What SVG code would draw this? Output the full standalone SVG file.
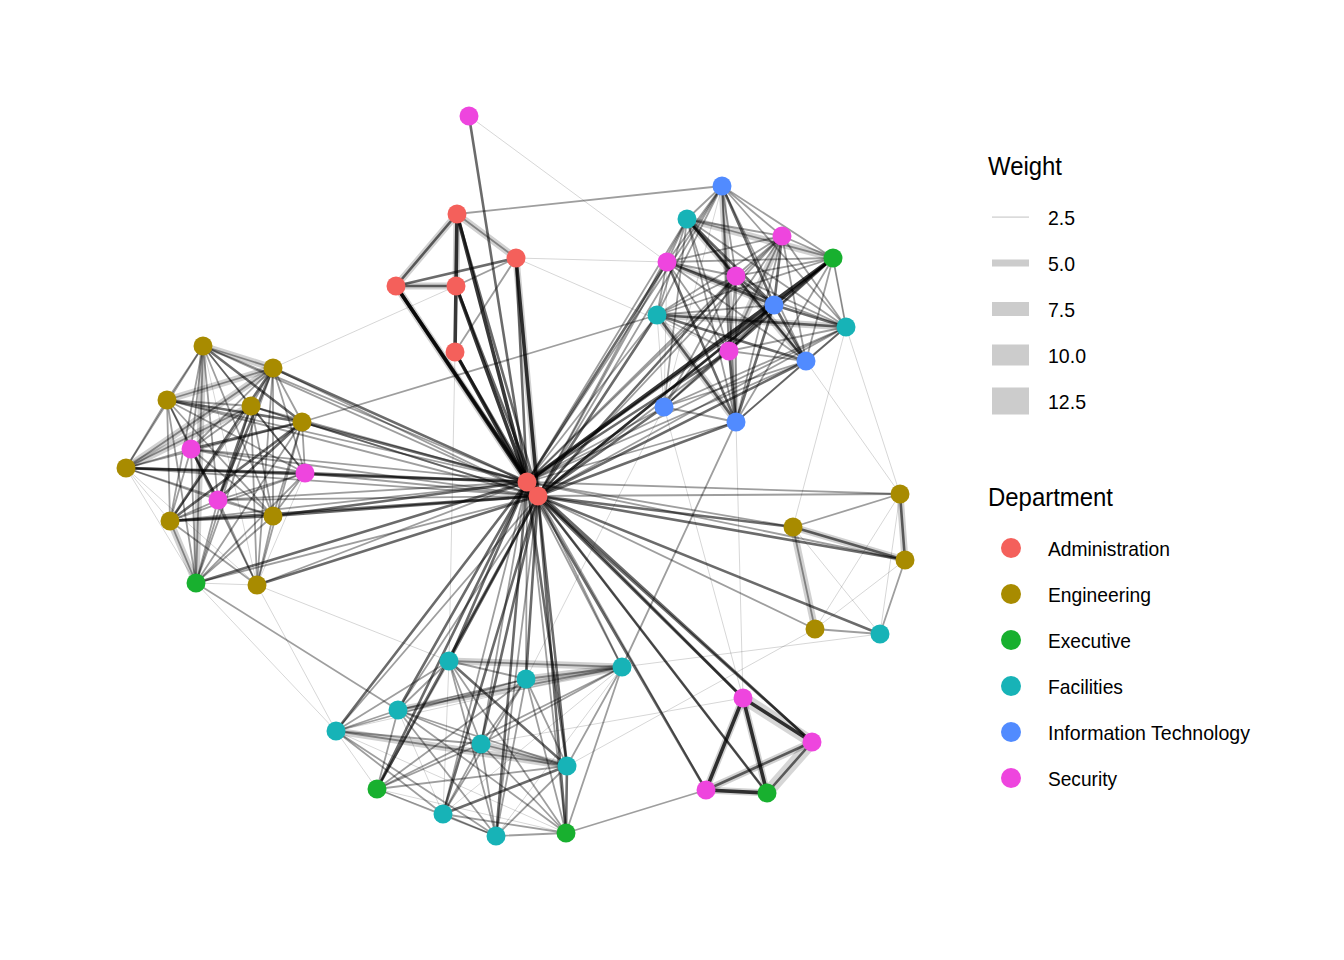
<svg xmlns="http://www.w3.org/2000/svg" width="1344" height="960" viewBox="0 0 1344 960">
<style>
path{fill:none;stroke:#000;stroke-linecap:round}
.e1{stroke-opacity:.16;stroke-width:1}
.e2{stroke-opacity:.38;stroke-width:1.8}
.e3{stroke-opacity:.58;stroke-width:2.6}
.e4{stroke-opacity:.78;stroke-width:3.6}
.g{stroke-opacity:.18;stroke-width:7}
.gw{stroke-opacity:.16;stroke-width:12}
.ad{fill:#F4605B}.en{fill:#A88B00}.ex{fill:#18B02F}.fa{fill:#17B3B7}.it{fill:#518BFF}.se{fill:#EE45DE}
text{font-family:"Liberation Sans",Arial,Helvetica,sans-serif;fill:#000}
.lt{font-size:25px}.ll{font-size:21px}
.key{fill:#CCCCCC}
</style>
<rect width="1344" height="960" fill="#fff"/>
<g id="connectors">
<g id="hub-edges">
<path class="e4" d="M457 214 527 482"/><path class="e3" d="M457 214 538 496"/>
<path class="e4" d="M396 286 527 482"/><path class="e4" d="M396 286 538 496"/>
<path class="e4" d="M456 286 527 482"/><path class="e3" d="M456 286 538 496"/>
<path class="e4" d="M455 352 527 482"/><path class="e3" d="M455 352 538 496"/>
<path class="e3" d="M516 258 527 482"/><path class="e4" d="M516 258 538 496"/>
<path class="e3" d="M469 116 527 482"/><path class="e3" d="M527 482 538 496"/>
<path class="e2" d="M203 346 527 482"/><path class="e2" d="M203 346 538 496"/>
<path class="e3" d="M273 368 527 482"/><path class="e2" d="M273 368 538 496"/>
<path class="e2" d="M167 400 527 482"/><path class="e2" d="M167 400 538 496"/>
<path class="e2" d="M251 406 527 482"/><path class="e2" d="M251 406 538 496"/>
<path class="e3" d="M302 422 527 482"/><path class="e2" d="M302 422 538 496"/>
<path class="e3" d="M126 468 527 482"/><path class="e2" d="M126 468 538 496"/>
<path class="e2" d="M170 521 527 482"/><path class="e3" d="M170 521 538 496"/>
<path class="e3" d="M273 516 527 482"/><path class="e3" d="M273 516 538 496"/>
<path class="e2" d="M257 585 527 482"/><path class="e3" d="M257 585 538 496"/>
<path class="e2" d="M191 449 527 482"/><path class="e2" d="M191 449 538 496"/>
<path class="e3" d="M305 473 527 482"/><path class="e2" d="M305 473 538 496"/>
<path class="e2" d="M218 500 527 482"/><path class="e2" d="M218 500 538 496"/>
<path class="e3" d="M196 583 527 482"/><path class="e2" d="M196 583 538 496"/>
<path class="e2" d="M722 186 527 482"/><path class="e2" d="M722 186 538 496"/>
<path class="e2" d="M687 219 527 482"/><path class="e2" d="M687 219 538 496"/>
<path class="e2" d="M782 236 527 482"/><path class="e2" d="M782 236 538 496"/>
<path class="e4" d="M833 258 527 482"/><path class="e3" d="M833 258 538 496"/>
<path class="e3" d="M667 262 527 482"/><path class="e2" d="M667 262 538 496"/>
<path class="e2" d="M736 276 527 482"/><path class="e3" d="M736 276 538 496"/>
<path class="e3" d="M774 305 527 482"/><path class="e3" d="M774 305 538 496"/>
<path class="e2" d="M657 315 527 482"/><path class="e3" d="M657 315 538 496"/>
<path class="e2" d="M846 327 527 482"/><path class="e2" d="M846 327 538 496"/>
<path class="e3" d="M729 351 527 482"/><path class="e2" d="M729 351 538 496"/>
<path class="e2" d="M806 361 527 482"/><path class="e3" d="M806 361 538 496"/>
<path class="e2" d="M664 407 527 482"/><path class="e3" d="M664 407 538 496"/>
<path class="e2" d="M736 422 527 482"/><path class="e3" d="M736 422 538 496"/>
<path class="e2" d="M900 494 527 482"/><path class="e2" d="M900 494 538 496"/>
<path class="e2" d="M793 527 527 482"/><path class="e3" d="M793 527 538 496"/>
<path class="e2" d="M905 560 527 482"/><path class="e3" d="M905 560 538 496"/>
<path class="e2" d="M815 629 538 496"/><path class="e3" d="M880 634 538 496"/>
<path class="e3" d="M743 698 527 482"/><path class="e3" d="M743 698 538 496"/>
<path class="e3" d="M812 742 527 482"/><path class="e3" d="M812 742 538 496"/>
<path class="e3" d="M706 790 527 482"/><path class="e2" d="M706 790 538 496"/>
<path class="e2" d="M767 793 527 482"/><path class="e3" d="M767 793 538 496"/>
<path class="e3" d="M449 661 527 482"/><path class="e3" d="M449 661 538 496"/>
<path class="e2" d="M526 679 527 482"/><path class="e3" d="M526 679 538 496"/>
<path class="e2" d="M622 667 527 482"/><path class="e2" d="M622 667 538 496"/>
<path class="e3" d="M398 710 527 482"/><path class="e2" d="M398 710 538 496"/>
<path class="e3" d="M336 731 527 482"/><path class="e2" d="M336 731 538 496"/>
<path class="e2" d="M481 744 527 482"/><path class="e3" d="M481 744 538 496"/>
<path class="e3" d="M567 766 527 482"/><path class="e3" d="M567 766 538 496"/>
<path class="e3" d="M377 789 527 482"/><path class="e3" d="M377 789 538 496"/>
<path class="e2" d="M443 814 527 482"/><path class="e3" d="M443 814 538 496"/>
<path class="e3" d="M496 836 527 482"/><path class="e2" d="M496 836 538 496"/>
<path class="e2" d="M566 833 527 482"/><path class="e3" d="M566 833 538 496"/>
</g>
<g id="admin-edges">
<path class="g" d="M457 214 396 286"/><path class="e3" d="M457 214 396 286"/>
<path class="g" d="M457 214 456 286"/><path class="e4" d="M457 214 456 286"/>
<path class="g" d="M457 214 516 258"/><path class="e2" d="M457 214 516 258"/>
<path class="g" d="M396 286 456 286"/><path class="e3" d="M396 286 456 286"/>
<path class="e3" d="M396 286 516 258"/>
<path class="e2" d="M456 286 516 258"/>
<path class="e4" d="M456 286 455 352"/>
<path class="e2" d="M516 258 455 352"/>
<path class="g" d="M396 286 527 482"/><path class="g" d="M516 258 538 496"/>
<path class="e1" d="M469 116 667 262"/>
<path class="e2" d="M457 214 722 186"/>
<path class="e1" d="M516 258 667 262"/>
<path class="e1" d="M516 258 729 351"/>
<path class="e1" d="M456 286 273 368"/>
<path class="e2" d="M302 422 657 315"/>
<path class="e1" d="M455 352 449 661"/>
</g>
<g id="left-edges">
<path class="g" d="M203 346 273 368"/><path class="g" d="M167 400 273 368"/><path class="g" d="M126 468 251 406"/><path class="g" d="M170 521 196 583"/><path class="g" d="M203 346 196 583"/><path class="g" d="M126 468 273 368"/>
<path class="e2" d="M203 346 273 368"/><path class="e2" d="M203 346 167 400"/><path class="e2" d="M203 346 251 406"/><path class="e3" d="M203 346 302 422"/><path class="e2" d="M203 346 126 468"/><path class="e2" d="M203 346 170 521"/><path class="e2" d="M203 346 273 516"/><path class="e1" d="M203 346 257 585"/><path class="e2" d="M203 346 191 449"/><path class="e2" d="M203 346 305 473"/><path class="e2" d="M203 346 218 500"/><path class="e2" d="M203 346 196 583"/>
<path class="e2" d="M273 368 167 400"/><path class="e2" d="M273 368 251 406"/><path class="e2" d="M273 368 302 422"/><path class="e2" d="M273 368 126 468"/><path class="e3" d="M273 368 170 521"/><path class="e2" d="M273 368 273 516"/><path class="e2" d="M273 368 257 585"/><path class="e2" d="M273 368 191 449"/><path class="e2" d="M273 368 305 473"/><path class="e3" d="M273 368 218 500"/><path class="e2" d="M273 368 196 583"/>
<path class="e2" d="M167 400 251 406"/><path class="e3" d="M167 400 302 422"/><path class="e2" d="M167 400 126 468"/><path class="e2" d="M167 400 170 521"/><path class="e2" d="M167 400 273 516"/><path class="e1" d="M167 400 257 585"/><path class="e2" d="M167 400 191 449"/><path class="e2" d="M167 400 305 473"/><path class="e2" d="M167 400 218 500"/><path class="e2" d="M167 400 196 583"/>
<path class="e2" d="M251 406 302 422"/><path class="e2" d="M251 406 126 468"/><path class="e2" d="M251 406 170 521"/><path class="e2" d="M251 406 273 516"/><path class="e2" d="M251 406 257 585"/><path class="e2" d="M251 406 191 449"/><path class="e2" d="M251 406 305 473"/><path class="e3" d="M251 406 218 500"/><path class="e2" d="M251 406 196 583"/>
<path class="e2" d="M302 422 126 468"/><path class="e3" d="M302 422 170 521"/><path class="e2" d="M302 422 273 516"/><path class="e2" d="M302 422 257 585"/><path class="e3" d="M302 422 191 449"/><path class="e2" d="M302 422 305 473"/><path class="e3" d="M302 422 218 500"/><path class="e2" d="M302 422 196 583"/>
<path class="e1" d="M126 468 170 521"/><path class="e2" d="M126 468 273 516"/><path class="e1" d="M126 468 257 585"/><path class="e2" d="M126 468 191 449"/><path class="e3" d="M126 468 305 473"/><path class="e2" d="M126 468 218 500"/><path class="e1" d="M126 468 196 583"/>
<path class="e3" d="M170 521 273 516"/><path class="e2" d="M170 521 257 585"/><path class="e2" d="M170 521 191 449"/><path class="e2" d="M170 521 305 473"/><path class="e2" d="M170 521 218 500"/><path class="e2" d="M170 521 196 583"/>
<path class="e2" d="M273 516 257 585"/><path class="e2" d="M273 516 191 449"/><path class="e2" d="M273 516 305 473"/><path class="e2" d="M273 516 218 500"/><path class="e2" d="M273 516 196 583"/>
<path class="e2" d="M257 585 191 449"/><path class="e1" d="M257 585 305 473"/><path class="e2" d="M257 585 218 500"/><path class="e1" d="M257 585 196 583"/>
<path class="e2" d="M191 449 305 473"/><path class="e3" d="M191 449 218 500"/><path class="e2" d="M191 449 196 583"/>
<path class="e2" d="M305 473 218 500"/><path class="e2" d="M305 473 196 583"/>
<path class="e2" d="M218 500 196 583"/>
<path class="e2" d="M196 583 398 710"/>
<path class="e1" d="M257 585 336 731"/><path class="e1" d="M257 585 449 661"/><path class="e1" d="M196 583 336 731"/>
</g>
<g id="topright-edges">
<path class="g" d="M687 219 833 258"/><path class="g" d="M667 262 774 305"/><path class="g" d="M657 315 846 327"/><path class="g" d="M722 186 736 422"/><path class="g" d="M782 236 729 351"/><path class="g" d="M687 219 806 361"/><path class="g" d="M657 315 736 422"/>
<path class="e2" d="M722 186 687 219"/><path class="e2" d="M722 186 782 236"/><path class="e2" d="M722 186 833 258"/><path class="e2" d="M722 186 667 262"/><path class="e2" d="M722 186 736 276"/><path class="e3" d="M722 186 774 305"/><path class="e2" d="M722 186 657 315"/><path class="e2" d="M722 186 846 327"/><path class="e2" d="M722 186 729 351"/><path class="e2" d="M722 186 806 361"/><path class="e1" d="M722 186 664 407"/><path class="e2" d="M722 186 736 422"/>
<path class="e2" d="M687 219 782 236"/><path class="e2" d="M687 219 833 258"/><path class="e2" d="M687 219 667 262"/><path class="e3" d="M687 219 736 276"/><path class="e3" d="M687 219 774 305"/><path class="e2" d="M687 219 657 315"/><path class="e2" d="M687 219 846 327"/><path class="e2" d="M687 219 729 351"/><path class="e3" d="M687 219 806 361"/><path class="e2" d="M687 219 664 407"/><path class="e2" d="M687 219 736 422"/>
<path class="e2" d="M782 236 833 258"/><path class="e2" d="M782 236 667 262"/><path class="e2" d="M782 236 736 276"/><path class="e3" d="M782 236 774 305"/><path class="e2" d="M782 236 657 315"/><path class="e2" d="M782 236 846 327"/><path class="e2" d="M782 236 729 351"/><path class="e2" d="M782 236 806 361"/><path class="e2" d="M782 236 664 407"/><path class="e2" d="M782 236 736 422"/>
<path class="e2" d="M833 258 667 262"/><path class="e2" d="M833 258 736 276"/><path class="e3" d="M833 258 774 305"/><path class="e2" d="M833 258 657 315"/><path class="e2" d="M833 258 846 327"/><path class="e3" d="M833 258 729 351"/><path class="e2" d="M833 258 806 361"/><path class="e2" d="M833 258 664 407"/><path class="e2" d="M833 258 736 422"/>
<path class="e2" d="M667 262 736 276"/><path class="e3" d="M667 262 774 305"/><path class="e2" d="M667 262 657 315"/><path class="e2" d="M667 262 846 327"/><path class="e2" d="M667 262 729 351"/><path class="e2" d="M667 262 806 361"/><path class="e1" d="M667 262 664 407"/><path class="e3" d="M667 262 736 422"/>
<path class="e3" d="M736 276 774 305"/><path class="e2" d="M736 276 657 315"/><path class="e2" d="M736 276 846 327"/><path class="e2" d="M736 276 729 351"/><path class="e2" d="M736 276 806 361"/><path class="e2" d="M736 276 664 407"/><path class="e2" d="M736 276 736 422"/>
<path class="e2" d="M774 305 657 315"/><path class="e3" d="M774 305 846 327"/><path class="e3" d="M774 305 729 351"/><path class="e3" d="M774 305 806 361"/><path class="e2" d="M774 305 664 407"/><path class="e3" d="M774 305 736 422"/>
<path class="e3" d="M657 315 846 327"/><path class="e2" d="M657 315 729 351"/><path class="e3" d="M657 315 806 361"/><path class="e1" d="M657 315 664 407"/><path class="e3" d="M657 315 736 422"/>
<path class="e2" d="M846 327 729 351"/><path class="e2" d="M846 327 806 361"/><path class="e2" d="M846 327 664 407"/><path class="e2" d="M846 327 736 422"/>
<path class="e2" d="M729 351 806 361"/><path class="e2" d="M729 351 664 407"/><path class="e3" d="M729 351 736 422"/>
<path class="e2" d="M806 361 664 407"/><path class="e2" d="M806 361 736 422"/>
<path class="e2" d="M664 407 736 422"/>
<path class="e1" d="M736 422 743 698"/><path class="e1" d="M664 407 743 698"/><path class="e1" d="M846 327 793 527"/><path class="e1" d="M806 361 900 494"/><path class="e1" d="M833 258 846 327"/><path class="e1" d="M846 327 900 494"/>
<path class="e2" d="M736 422 622 667"/><path class="e1" d="M664 407 526 679"/>
</g>
<g id="right-edges">
<path class="g" d="M900 494 905 560"/><path class="e3" d="M900 494 905 560"/>
<path class="e2" d="M900 494 793 527"/>
<path class="g" d="M793 527 905 560"/><path class="e3" d="M793 527 905 560"/>
<path class="g" d="M793 527 815 629"/><path class="e2" d="M793 527 815 629"/>
<path class="e1" d="M793 527 880 634"/><path class="e1" d="M900 494 880 634"/><path class="e2" d="M905 560 880 634"/><path class="e1" d="M905 560 815 629"/><path class="e2" d="M815 629 880 634"/><path class="e1" d="M900 494 815 629"/>
<path class="e1" d="M880 634 622 667"/><path class="e1" d="M815 629 567 766"/>
</g>
<g id="bottomright-edges">
<path class="gw" d="M743 698 812 742"/><path class="gw" d="M812 742 767 793"/><path class="g" d="M706 790 767 793"/><path class="g" d="M743 698 767 793"/><path class="g" d="M812 742 706 790"/><path class="g" d="M743 698 706 790"/>
<path class="e4" d="M743 698 812 742"/><path class="e4" d="M743 698 706 790"/><path class="e4" d="M743 698 767 793"/><path class="e3" d="M812 742 706 790"/><path class="e3" d="M812 742 767 793"/><path class="e4" d="M706 790 767 793"/>
<path class="e2" d="M566 833 706 790"/><path class="e1" d="M481 744 743 698"/>
</g>
<g id="bottom-edges">
<path class="g" d="M398 710 622 667"/><path class="g" d="M526 679 622 667"/><path class="g" d="M449 661 622 667"/><path class="g" d="M336 731 567 766"/><path class="g" d="M481 744 567 766"/>
<path class="e2" d="M449 661 526 679"/><path class="e2" d="M449 661 622 667"/><path class="e2" d="M449 661 398 710"/><path class="e2" d="M449 661 336 731"/><path class="e2" d="M449 661 481 744"/><path class="e3" d="M449 661 567 766"/><path class="e2" d="M449 661 377 789"/><path class="e1" d="M449 661 443 814"/><path class="e2" d="M449 661 496 836"/><path class="e2" d="M449 661 566 833"/>
<path class="e2" d="M526 679 622 667"/><path class="e2" d="M526 679 398 710"/><path class="e2" d="M526 679 336 731"/><path class="e2" d="M526 679 481 744"/><path class="e2" d="M526 679 567 766"/><path class="e2" d="M526 679 377 789"/><path class="e2" d="M526 679 443 814"/><path class="e2" d="M526 679 496 836"/><path class="e2" d="M526 679 566 833"/>
<path class="e2" d="M622 667 398 710"/><path class="e1" d="M622 667 336 731"/><path class="e2" d="M622 667 481 744"/><path class="e2" d="M622 667 567 766"/><path class="e2" d="M622 667 377 789"/><path class="e1" d="M622 667 443 814"/><path class="e1" d="M622 667 496 836"/><path class="e2" d="M622 667 566 833"/>
<path class="e2" d="M398 710 336 731"/><path class="e2" d="M398 710 481 744"/><path class="e2" d="M398 710 567 766"/><path class="e2" d="M398 710 377 789"/><path class="e1" d="M398 710 443 814"/><path class="e2" d="M398 710 496 836"/><path class="e2" d="M398 710 566 833"/>
<path class="e2" d="M336 731 481 744"/><path class="e2" d="M336 731 567 766"/><path class="e1" d="M336 731 377 789"/><path class="e2" d="M336 731 443 814"/><path class="e2" d="M336 731 496 836"/><path class="e1" d="M336 731 566 833"/>
<path class="e2" d="M481 744 567 766"/><path class="e2" d="M481 744 377 789"/><path class="e2" d="M481 744 443 814"/><path class="e2" d="M481 744 496 836"/><path class="e2" d="M481 744 566 833"/>
<path class="e3" d="M567 766 443 814"/><path class="e2" d="M567 766 377 789"/><path class="e2" d="M567 766 496 836"/><path class="e3" d="M567 766 566 833"/>
<path class="e1" d="M377 789 443 814"/><path class="e2" d="M377 789 496 836"/><path class="e1" d="M377 789 566 833"/>
<path class="e2" d="M443 814 496 836"/><path class="e2" d="M443 814 566 833"/>
<path class="e2" d="M496 836 566 833"/>
</g>
</g>
<g id="nodes">
<g id="n-adm1"><circle class="ad" cx="457" cy="214" r="9.5"/></g>
<g id="n-adm2"><circle class="ad" cx="516" cy="258" r="9.5"/></g>
<g id="n-adm3"><circle class="ad" cx="396" cy="286" r="9.5"/></g>
<g id="n-adm4"><circle class="ad" cx="456" cy="286" r="9.5"/></g>
<g id="n-adm5"><circle class="ad" cx="455" cy="352" r="9.5"/></g>
<g id="n-adm6"><circle class="ad" cx="527" cy="482" r="9.5"/></g>
<g id="n-adm7"><circle class="ad" cx="538" cy="496" r="9.5"/></g>
<g id="n-sec0"><circle class="se" cx="469" cy="116" r="9.5"/></g>
<g id="n-l1"><circle class="en" cx="203" cy="346" r="9.5"/></g>
<g id="n-l2"><circle class="en" cx="273" cy="368" r="9.5"/></g>
<g id="n-l3"><circle class="en" cx="167" cy="400" r="9.5"/></g>
<g id="n-l4"><circle class="en" cx="251" cy="406" r="9.5"/></g>
<g id="n-l5"><circle class="en" cx="302" cy="422" r="9.5"/></g>
<g id="n-l6"><circle class="en" cx="126" cy="468" r="9.5"/></g>
<g id="n-l7"><circle class="en" cx="170" cy="521" r="9.5"/></g>
<g id="n-l8"><circle class="en" cx="273" cy="516" r="9.5"/></g>
<g id="n-l9"><circle class="en" cx="257" cy="585" r="9.5"/></g>
<g id="n-ls1"><circle class="se" cx="191" cy="449" r="9.5"/></g>
<g id="n-ls2"><circle class="se" cx="305" cy="473" r="9.5"/></g>
<g id="n-ls3"><circle class="se" cx="218" cy="500" r="9.5"/></g>
<g id="n-lx"><circle class="ex" cx="196" cy="583" r="9.5"/></g>
<g id="n-t1"><circle class="it" cx="722" cy="186" r="9.5"/></g>
<g id="n-t2"><circle class="fa" cx="687" cy="219" r="9.5"/></g>
<g id="n-t3"><circle class="se" cx="782" cy="236" r="9.5"/></g>
<g id="n-t4"><circle class="ex" cx="833" cy="258" r="9.5"/></g>
<g id="n-t5"><circle class="se" cx="667" cy="262" r="9.5"/></g>
<g id="n-t6"><circle class="se" cx="736" cy="276" r="9.5"/></g>
<g id="n-t7"><circle class="it" cx="774" cy="305" r="9.5"/></g>
<g id="n-t8"><circle class="fa" cx="657" cy="315" r="9.5"/></g>
<g id="n-t9"><circle class="fa" cx="846" cy="327" r="9.5"/></g>
<g id="n-t10"><circle class="se" cx="729" cy="351" r="9.5"/></g>
<g id="n-t11"><circle class="it" cx="806" cy="361" r="9.5"/></g>
<g id="n-t12"><circle class="it" cx="664" cy="407" r="9.5"/></g>
<g id="n-t13"><circle class="it" cx="736" cy="422" r="9.5"/></g>
<g id="n-r1"><circle class="en" cx="900" cy="494" r="9.5"/></g>
<g id="n-r2"><circle class="en" cx="793" cy="527" r="9.5"/></g>
<g id="n-r3"><circle class="en" cx="905" cy="560" r="9.5"/></g>
<g id="n-r4"><circle class="en" cx="815" cy="629" r="9.5"/></g>
<g id="n-r5"><circle class="fa" cx="880" cy="634" r="9.5"/></g>
<g id="n-p1"><circle class="se" cx="743" cy="698" r="9.5"/></g>
<g id="n-p2"><circle class="se" cx="812" cy="742" r="9.5"/></g>
<g id="n-p3"><circle class="se" cx="706" cy="790" r="9.5"/></g>
<g id="n-p4"><circle class="ex" cx="767" cy="793" r="9.5"/></g>
<g id="n-b1"><circle class="fa" cx="449" cy="661" r="9.5"/></g>
<g id="n-b2"><circle class="fa" cx="526" cy="679" r="9.5"/></g>
<g id="n-b3"><circle class="fa" cx="622" cy="667" r="9.5"/></g>
<g id="n-b4"><circle class="fa" cx="398" cy="710" r="9.5"/></g>
<g id="n-b5"><circle class="fa" cx="336" cy="731" r="9.5"/></g>
<g id="n-b6"><circle class="fa" cx="481" cy="744" r="9.5"/></g>
<g id="n-b7"><circle class="fa" cx="567" cy="766" r="9.5"/></g>
<g id="n-b8"><circle class="ex" cx="377" cy="789" r="9.5"/></g>
<g id="n-b9"><circle class="fa" cx="443" cy="814" r="9.5"/></g>
<g id="n-b10"><circle class="fa" cx="496" cy="836" r="9.5"/></g>
<g id="n-b11"><circle class="ex" cx="566" cy="833" r="9.5"/></g>
</g>
<g id="legend-weight">
<text class="lt" x="988" y="175" textLength="74" lengthAdjust="spacingAndGlyphs">Weight</text>
<rect class="key" x="992" y="216.5" width="37" height="1.2"/>
<rect class="key" x="992" y="259.5" width="37" height="7"/>
<rect class="key" x="992" y="302" width="37" height="14"/>
<rect class="key" x="992" y="344.5" width="37" height="21"/>
<rect class="key" x="992" y="387.5" width="37" height="27"/>
<text class="ll" x="1048" y="225" textLength="27" lengthAdjust="spacingAndGlyphs">2.5</text>
<text class="ll" x="1048" y="271" textLength="27" lengthAdjust="spacingAndGlyphs">5.0</text>
<text class="ll" x="1048" y="317" textLength="27" lengthAdjust="spacingAndGlyphs">7.5</text>
<text class="ll" x="1048" y="363" textLength="38" lengthAdjust="spacingAndGlyphs">10.0</text>
<text class="ll" x="1048" y="409" textLength="38" lengthAdjust="spacingAndGlyphs">12.5</text>
</g>
<g id="legend-department">
<text class="lt" x="988" y="506" textLength="125" lengthAdjust="spacingAndGlyphs">Department</text>
<circle class="ad" cx="1011" cy="548" r="10"/>
<circle class="en" cx="1011" cy="594" r="10"/>
<circle class="ex" cx="1011" cy="640" r="10"/>
<circle class="fa" cx="1011" cy="686" r="10"/>
<circle class="it" cx="1011" cy="732" r="10"/>
<circle class="se" cx="1011" cy="778" r="10"/>
<text class="ll" x="1048" y="556" textLength="122" lengthAdjust="spacingAndGlyphs">Administration</text>
<text class="ll" x="1048" y="602" textLength="103" lengthAdjust="spacingAndGlyphs">Engineering</text>
<text class="ll" x="1048" y="648" textLength="83" lengthAdjust="spacingAndGlyphs">Executive</text>
<text class="ll" x="1048" y="694" textLength="75" lengthAdjust="spacingAndGlyphs">Facilities</text>
<text class="ll" x="1048" y="740" textLength="202" lengthAdjust="spacingAndGlyphs">Information Technology</text>
<text class="ll" x="1048" y="786" textLength="69" lengthAdjust="spacingAndGlyphs">Security</text>
</g>
</svg>
